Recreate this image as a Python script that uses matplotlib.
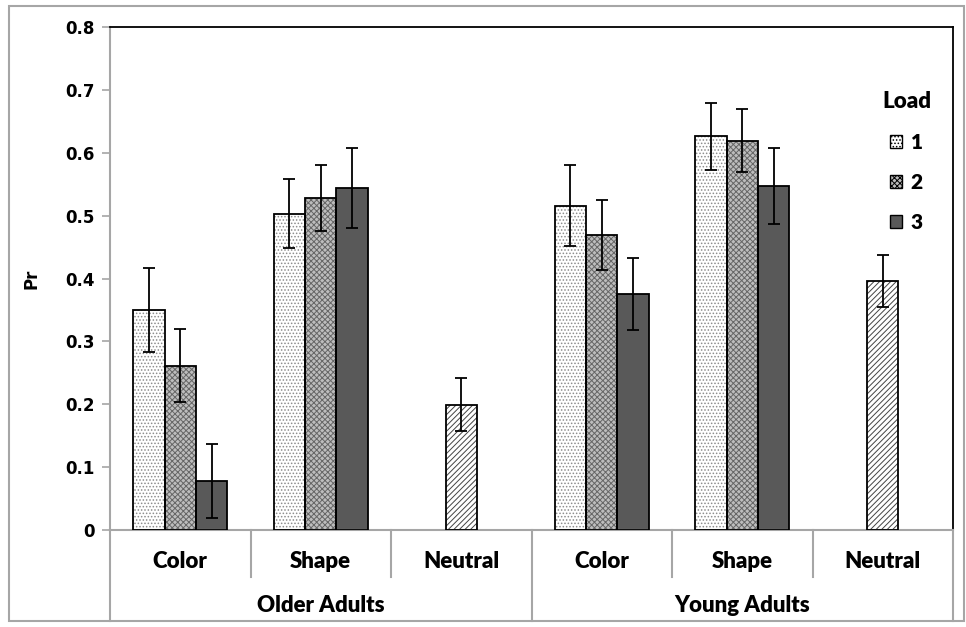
import numpy as np
import matplotlib
matplotlib.use('Agg')
import matplotlib.pyplot as plt
from matplotlib.patches import Patch, Rectangle
from matplotlib.lines import Line2D

# data (Pr by group / task / load)
groups = ['Older Adults', 'Young Adults']
tasks = ['Color', 'Shape', 'Neutral']
loads = ['1', '2', '3']

older_color = [0.350, 0.261, 0.078]
older_color_err = [0.067, 0.058, 0.059]
older_shape = [0.503, 0.528, 0.544]
older_shape_err = [0.055, 0.052, 0.063]
older_neutral = 0.199
older_neutral_err = 0.042

young_color = [0.516, 0.469, 0.375]
young_color_err = [0.065, 0.056, 0.057]
young_shape = [0.626, 0.619, 0.547]
young_shape_err = [0.053, 0.050, 0.060]
young_neutral = 0.396
young_neutral_err = 0.041

yticks = [0, 0.1, 0.2, 0.3, 0.4, 0.5, 0.6, 0.7, 0.8]
ytick_labels = ['0', '0.1', '0.2', '0.3', '0.4', '0.5', '0.6', '0.7', '0.8']

plt.rcParams['hatch.linewidth'] = 0.7
CAT_FONT = 'Lato'
GRID = '#a6a6a6'

# look of each load level: (face, hatch, hatch colour)
styles = [
    ('white', '.....', '#8c8c8c'),
    ('#bdbdbd', 'xxxxxx', '#666666'),
    ('#595959', None, '#595959'),
]
neutral_style = ('white', '//////', '#444444')

fig = plt.figure(figsize=(9.66, 6.27), dpi=100)
ax = fig.add_axes([110 / 966, 1 - 530 / 627, 843 / 966, 503 / 627])

bw = 0.224


def draw_bar(x, h, err, face, hatch, hcol):
    # hatch layer first, then black outline on top
    ax.bar(x, h, bw, color=face, edgecolor=hcol, hatch=hatch, linewidth=0, zorder=2)
    ax.bar(x, h, bw, fill=False, edgecolor='black', linewidth=1.3, zorder=3)
    ax.errorbar(x, h, yerr=err, fmt='none', ecolor='black', elinewidth=1.3,
                capsize=4.5, capthick=1.3, zorder=4)


series = [
    (older_color, older_color_err),
    (older_shape, older_shape_err),
    (older_neutral, older_neutral_err),
    (young_color, young_color_err),
    (young_shape, young_shape_err),
    (young_neutral, young_neutral_err),
]

for i, (vals, errs) in enumerate(series):
    if np.ndim(vals) == 0:
        draw_bar(i, vals, errs, *neutral_style)
    else:
        for k in range(3):
            draw_bar(i + (k - 1) * bw, vals[k], errs[k], *styles[k])

ax.set_xlim(-0.5, 5.5)
ax.set_ylim(0, 0.8)
ax.set_yticks(yticks)
ax.set_yticklabels(ytick_labels, fontsize=12, fontweight='bold', family='DejaVu Sans')
ax.tick_params(axis='y', length=6, width=1.2, color=GRID, pad=5)
ax.set_xticks([])
ax.set_ylabel('Pr', fontsize=12, fontweight='bold', family='DejaVu Sans', labelpad=18)

for side in ['top', 'right']:
    ax.spines[side].set_color('black')
    ax.spines[side].set_linewidth(1.3)
for side in ['left', 'bottom']:
    ax.spines[side].set_color(GRID)
    ax.spines[side].set_linewidth(1.5)

# two-level category axis
trans = ax.get_xaxis_transform()
for i in range(7):
    x = i - 0.5
    y_end = -0.181 if i in (0, 3, 6) else -0.094
    ax.add_line(Line2D([x, x], [0, y_end], transform=trans, color=GRID,
                       linewidth=1.5, clip_on=False))
for i in range(6):
    ax.text(i, -0.063, tasks[i % 3], transform=trans, ha='center', va='center',
            fontsize=16, fontweight='heavy', family=CAT_FONT)
for j, g in enumerate(groups):
    ax.text(j * 3 + 1, -0.151, g, transform=trans, ha='center', va='center',
            fontsize=16, fontweight='heavy', family=CAT_FONT)

# legend
handles = [Patch(facecolor=f, edgecolor='black', hatch=h, linewidth=1.0)
           for f, h, _ in styles]
leg = ax.legend(handles, loads, title='Load', frameon=False, loc='upper right',
                bbox_to_anchor=(0.996, 0.91), handlelength=0.6, handleheight=0.6,
                handletextpad=0.4, labelspacing=1.0,
                prop={'family': CAT_FONT, 'weight': 'heavy', 'size': 15},
                title_fontproperties={'family': CAT_FONT, 'weight': 'heavy', 'size': 16})

# outer frame round the whole chart
fig.add_artist(Rectangle((9 / 966, 6 / 627), 955 / 966, 615 / 627, transform=fig.transFigure,
                         fill=False, edgecolor=GRID, linewidth=1.5))

fig.savefig('out.png', dpi=100)
